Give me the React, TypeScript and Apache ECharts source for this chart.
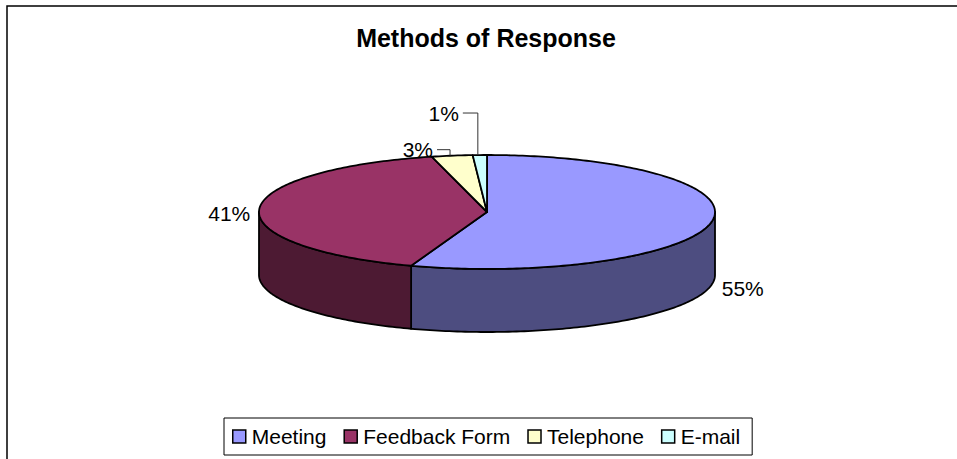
import React, { useEffect, useRef } from "react";
import * as echarts from "echarts";

const TITLE = "Methods of Response";
const CATEGORIES = ["Meeting", "Feedback Form", "Telephone", "E-mail"];
const VALUES = [55.4, 40.7, 2.9, 1.0];
const TOP_COLORS = ["#9999FF", "#993366", "#FFFFCC", "#CCFFFF"];
const SIDE_COLORS = ["#4D4D80", "#4D1A33", "#80805F", "#668080"];

// label placement relative to the slice's anchor on the ellipse (styling only)
const LABEL_STYLE = [
  { face: "bottom", dx: 10, dy: 4, align: "left", leader: false },
  { face: "top", dx: -9, dy: 4, align: "right", leader: false },
  { face: "top", dx: -19, dy: -6, align: "right", leader: true },
  { face: "top", dx: -21, dy: -42, align: "right", leader: true },
];

const FONT = '"Liberation Sans", Arial, sans-serif';
const CX = 487;
const CY = 212;
const RX = 228;
const RY = 57;
const DEPTH = 63;
const EDGE = 1.8;

function pt(deg: number, dy = 0): number[] {
  const r = (deg * Math.PI) / 180;
  return [CX + RX * Math.sin(r), CY - RY * Math.cos(r) + dy];
}

function arc(a: number, b: number, dy = 0): number[][] {
  const pts: number[][] = [];
  const n = Math.max(2, Math.ceil(Math.abs(b - a)));
  for (let k = 0; k <= n; k++) pts.push(pt(a + ((b - a) * k) / n, dy));
  return pts;
}

export default function App() {
  const ref = useRef<HTMLDivElement>(null);
  useEffect(() => {
    if (!ref.current) return;
    const chart = echarts.init(ref.current, null, { renderer: "svg" });
    const total = VALUES.reduce((s, v) => s + v, 0);
    let cum = 0;
    const slices = VALUES.map((v) => {
      const s = cum;
      cum += v;
      return [(s / total) * 360, (cum / total) * 360, v];
    });

    const series = CATEGORIES.map((name, i) => ({
      type: "custom",
      name,
      coordinateSystem: "none",
      itemStyle: { color: TOP_COLORS[i] },
      data: [slices[i]],
      renderItem: (params: any, api: any) => {
        const a = api.value(0) as number;
        const b = api.value(1) as number;
        const v = api.value(2) as number;
        const children: any[] = [];
        const lo = Math.max(a, 90);
        const hi = Math.min(b, 270);
        if (lo < hi) {
          const pts = arc(lo, hi).concat(arc(hi, lo, DEPTH));
          children.push({
            type: "polygon",
            shape: { points: pts },
            style: { fill: SIDE_COLORS[i], stroke: "#000", lineWidth: EDGE, lineJoin: "round" },
            z2: 1,
          });
        }
        children.push({
          type: "polygon",
          shape: { points: [[CX, CY]].concat(arc(a, b)) },
          style: { fill: TOP_COLORS[i], stroke: "#000", lineWidth: EDGE, lineJoin: "round" },
          z2: 5,
        });
        const ls = LABEL_STYLE[i];
        const mid = (a + b) / 2;
        const anchor = pt(mid, ls.face === "bottom" ? DEPTH : 0);
        const lx = anchor[0] + ls.dx;
        const ly = anchor[1] + ls.dy;
        const text = Math.round((v / total) * 100) + "%";
        children.push({
          type: "text",
          x: lx,
          y: ly,
          style: {
            text,
            fill: "#000",
            fontSize: 21,
            fontFamily: FONT,
            align: ls.align,
            verticalAlign: "middle",
          },
          z2: 10,
        });
        if (ls.leader) {
          const vx = anchor[0] - 2;
          children.push({
            type: "polyline",
            shape: {
              points: [
                [lx + 4, ly],
                [vx, ly],
                [vx, anchor[1]],
              ],
            },
            style: { stroke: "#333", lineWidth: 1, fill: "none" },
            z2: 10,
          });
        }
        return { type: "group", children };
      },
    }));

    chart.setOption({
      animation: false,
      backgroundColor: "#fff",
      graphic: [
        {
          type: "rect",
          silent: true,
          shape: { x: 7, y: 6, width: 1000, height: 500 },
          style: { fill: "none", stroke: "#000", lineWidth: 1.5 },
        },
        {
          type: "text",
          x: 486,
          y: 37.5,
          style: {
            text: TITLE,
            fill: "#000",
            fontSize: 25,
            fontWeight: "bold",
            fontFamily: FONT,
            align: "center",
            verticalAlign: "middle",
          },
        },
      ],
      legend: {
        data: CATEGORIES,
        left: 224,
        top: 418,
        orient: "horizontal",
        padding: [8, 12, 8, 8],
        borderColor: "#000",
        borderWidth: 1,
        itemWidth: 13,
        itemHeight: 13,
        itemGap: 17,
        icon: "rect",
        itemStyle: { borderColor: "#000", borderWidth: 1.5 },
        textStyle: { fontSize: 21, fontFamily: FONT, color: "#000", padding: [0, 0, 0, 1] },
        selectedMode: false,
      },
      series,
    });
    return () => chart.dispose();
  }, []);
  return (
    <div
      ref={ref}
      style={{ position: "absolute", left: 0, top: 0, width: 957, height: 459 }}
    />
  );
}
